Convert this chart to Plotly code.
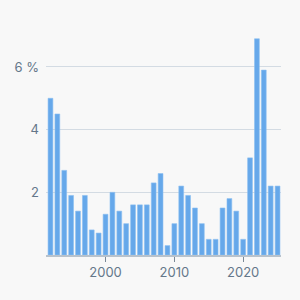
import plotly.graph_objects as go

years = list(range(1992, 2026))
inflation = [5.0, 4.5, 2.7, 1.9, 1.4, 1.9, 0.8, 0.7, 1.3, 2.0, 1.4, 1.0, 1.6, 1.6, 1.6,
             2.3, 2.6, 0.3, 1.0, 2.2, 1.9, 1.5, 1.0, 0.5, 0.5, 1.5, 1.8, 1.4, 0.5, 3.1,
             6.9, 5.9, 2.2, 2.2]
y_tickvals = [2, 4, 6]
y_ticktext = ["2", "4", "6 %"]
x_tickvals = [2000, 2010, 2020]

fig = go.Figure(go.Bar(
    x=years, y=inflation,
    marker=dict(color="#66a8ea", line=dict(color="#8cc0f2", width=0.6)),
))
fig.update_layout(
    width=300, height=300,
    margin=dict(l=46, r=19, t=30, b=45),
    paper_bgcolor="#f8f8f8", plot_bgcolor="#f8f8f8",
    bargap=0.3, showlegend=False,
    font=dict(family="Inter", size=13, color="#64778a"),
)
fig.update_xaxes(
    range=[1991.35, 2025.5], tickvals=x_tickvals, showgrid=False,
    showline=True, linecolor="#b8c2cc", linewidth=1.5,
    ticks="outside", ticklen=5, tickcolor="#7a8896", tickwidth=1,
    zeroline=False,
)
fig.update_yaxes(
    range=[0, 7.18], tickvals=y_tickvals, ticktext=y_ticktext,
    showgrid=True, gridcolor="#d3dbe3", gridwidth=1, zeroline=False,
    ticks="", ticklabelstandoff=6,
)
fig.write_html("out.html")
